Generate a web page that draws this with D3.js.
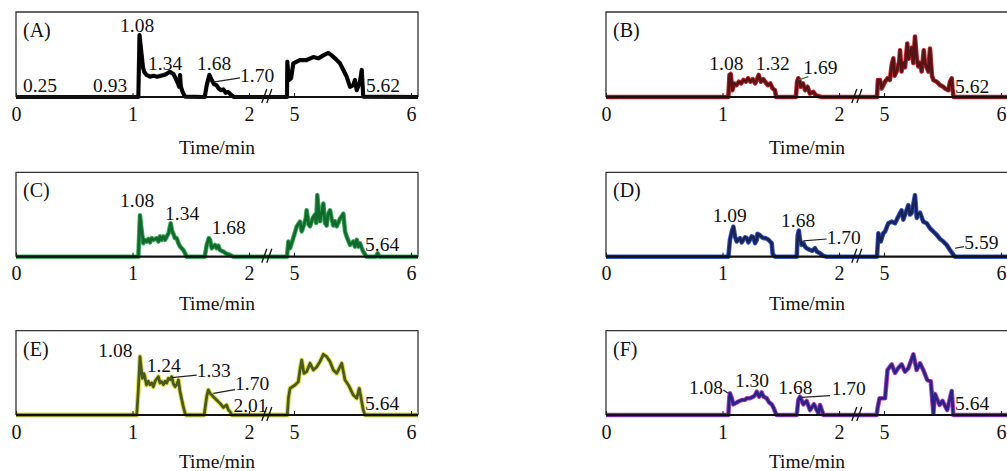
<!DOCTYPE html>
<html><head><meta charset="utf-8">
<script src="https://cdn.jsdelivr.net/npm/d3@7"></script>
<style>html,body{margin:0;padding:0;background:#fff;overflow:hidden}</style>
</head><body><svg id="chart" width="1007" height="471"></svg>
<script>
// ---------- data ----------
const panelNames = ["(A)", "(B)", "(C)", "(D)", "(E)", "(F)"];
const tickValues = [0, 1, 2, 5, 6];
const tickLabels = ["0", "1", "2", "5", "6"];
const axisTitle = "Time/min";
const timeDomain = [0, 2.15, 4.77, 6.06]; // broken time axis: 0–2.15 | 4.77–6.06

// [time (min), relative intensity (%)]
const seriesA = [[0,0],[1.05,0],[1.06,72.9],[1.07,60],[1.09,35],[1.10,29.8],[1.12,25.9],[1.15,23.9],[1.18,25],[1.21,23.9],[1.24,24.9],[1.27,25.9],[1.29,27],[1.32,29.8],[1.351,27],[1.37,22],[1.39,16],[1.40,12],[1.408,25.9],[1.415,12],[1.43,6],[1.45,0.5],[1.62,0],[1.637,14],[1.66,26],[1.68,20],[1.70,15],[1.72,14],[1.74,10],[1.76,8],[1.78,9],[1.80,5],[1.82,6],[1.85,2],[1.87,0],
  [4.94,0],[4.943,41.5],[4.955,20],[4.975,22],[4.994,39.6],[5.05,43.5],[5.108,43.5],[5.165,47],[5.208,45.5],[5.251,49],[5.293,51.8],[5.322,49],[5.35,45.5],[5.393,39.6],[5.422,31.8],[5.45,23.9],[5.479,12],[5.507,14],[5.521,20],[5.536,8],[5.564,18],[5.579,31.8],[5.592,0.4],[6.06,0]];
const seriesB = [[0,0],[1.05,0],[1.06,26],[1.07,27],[1.085,8],[1.10,16],[1.12,14],[1.14,18],[1.16,16],[1.18,20],[1.20,18],[1.22,22],[1.24,18],[1.26,21],[1.28,16],[1.30,22],[1.31,26],[1.33,18],[1.35,21],[1.37,17],[1.39,14],[1.41,16],[1.43,10],[1.45,8],[1.46,0],
  [1.63,0],[1.64,18],[1.65,22],[1.66,20],[1.67,12],[1.69,16],[1.71,8],[1.73,12],[1.75,4],[1.78,6],[1.80,2],[1.85,0],
  [4.94,0],[4.948,20],[4.955,16],[4.966,20],[4.98,10],[5.009,18],[5.03,22],[5.05,20],[5.066,38],[5.08,45.5],[5.09,25],[5.108,30],[5.13,42],[5.137,55],[5.15,30],[5.16,40],[5.18,35],[5.199,63],[5.21,45],[5.222,51],[5.237,58],[5.25,40],[5.265,71],[5.28,45],[5.293,36],[5.308,40],[5.322,30],[5.34,55],[5.35,40],[5.365,35],[5.379,30],[5.393,57],[5.41,25],[5.422,20],[5.45,18],[5.479,14],[5.507,12],[5.521,10],[5.55,8],[5.564,18],[5.579,22],[5.585,10],[5.595,0],[6.06,0]];
const seriesC = [[0,0],[1.05,0],[1.064,49],[1.075,35],[1.093,16],[1.107,20],[1.122,18],[1.136,21],[1.15,17],[1.165,22],[1.179,20],[1.208,22],[1.222,18],[1.236,24],[1.25,20],[1.265,24],[1.28,20],[1.294,24],[1.31,28],[1.328,39.6],[1.34,30],[1.351,27],[1.365,22],[1.379,22],[1.394,16],[1.408,12],[1.422,10],[1.436,8],[1.451,4],[1.465,0],
  [1.62,0],[1.637,14],[1.655,22],[1.665,20],[1.68,10],[1.694,12],[1.708,14],[1.722,10],[1.737,13],[1.75,8],[1.78,6],[1.80,4],[1.837,2],[1.866,0],
  [4.94,0],[4.952,18],[4.966,10],[4.989,20],[5.023,35.7],[5.051,41.5],[5.066,30],[5.08,35.7],[5.10,45],[5.108,55],[5.125,38],[5.137,36],[5.16,45.5],[5.18,50],[5.19,40],[5.199,72.9],[5.215,48],[5.222,42],[5.24,55],[5.251,63],[5.265,40],[5.279,37],[5.29,50],[5.308,55],[5.322,45],[5.336,37],[5.35,42],[5.365,36],[5.393,45],[5.422,51],[5.436,30],[5.45,24],[5.479,14],[5.493,16],[5.507,18],[5.521,12],[5.536,20],[5.55,12],[5.564,16],[5.58,10],[5.592,6],[5.621,0],[5.70,0],[5.715,4],[5.73,0],[6.06,0]];
const seriesD = [[0,0],[1.05,0],[1.064,20],[1.08,30],[1.093,35.7],[1.107,24],[1.122,18],[1.136,20],[1.15,22],[1.165,17],[1.179,20],[1.194,23],[1.208,22],[1.222,17],[1.236,20],[1.25,24],[1.265,23],[1.279,16],[1.294,20],[1.30,27],[1.315,26],[1.33,24],[1.35,22],[1.37,22],[1.394,20],[1.408,18],[1.422,16],[1.431,3],[1.451,0],
  [1.637,0],[1.645,25],[1.655,31],[1.665,20],[1.68,14],[1.694,16],[1.708,12],[1.722,10],[1.737,9],[1.751,8],[1.77,7],[1.794,10],[1.81,6],[1.837,4],[1.866,1],[1.894,0],
  [4.94,0],[4.952,27.8],[4.972,18],[4.994,27.8],[5.009,29.8],[5.037,39.6],[5.066,41.5],[5.094,39.6],[5.12,47],[5.15,55],[5.165,44],[5.18,50],[5.208,61],[5.222,50],[5.237,52],[5.265,72.9],[5.28,46],[5.293,50],[5.308,52],[5.336,41.5],[5.365,39.6],[5.393,33.7],[5.422,29.8],[5.45,26],[5.479,21],[5.507,18],[5.536,14],[5.564,8],[5.592,2.4],[5.607,0],[6.06,0]];
const seriesE = [[0,0],[1.036,0],[1.05,30],[1.064,69.2],[1.075,55],[1.085,43.5],[1.10,49],[1.12,35.6],[1.136,40],[1.15,36],[1.165,38],[1.179,33.6],[1.194,40],[1.208,43],[1.222,45.5],[1.236,38],[1.25,39.5],[1.265,36],[1.279,40],[1.294,38],[1.308,43.5],[1.322,42],[1.336,45.5],[1.351,37],[1.365,33.6],[1.38,36],[1.394,41.5],[1.408,27.7],[1.436,9.9],[1.451,2],[1.46,0],
  [1.615,0],[1.637,22],[1.651,29.7],[1.665,26],[1.694,21.7],[1.722,17.8],[1.751,13.8],[1.78,9],[1.808,11.9],[1.823,6],[1.837,4],[1.852,0],
  [4.943,0],[4.952,19.8],[4.966,31.6],[5.009,35.6],[5.037,39.5],[5.051,53.4],[5.066,65.2],[5.085,49.4],[5.108,51.4],[5.137,61.3],[5.165,53.4],[5.194,57],[5.222,63.3],[5.251,72],[5.279,69.2],[5.308,63.3],[5.336,53.4],[5.365,49.4],[5.408,61.3],[5.436,41.5],[5.465,35.6],[5.507,23.7],[5.536,19.8],[5.558,31.6],[5.579,15.8],[5.592,5.9],[5.607,0],[6.06,0]];
const seriesF = [[0,0],[1.05,0],[1.058,20],[1.064,25.7],[1.079,20],[1.093,12.7],[1.122,14.8],[1.136,16],[1.165,17.8],[1.194,18],[1.208,19.8],[1.236,20],[1.265,21.7],[1.28,23.7],[1.294,27.7],[1.315,21.7],[1.336,26.7],[1.351,22],[1.379,19.8],[1.40,15],[1.422,12.7],[1.44,8],[1.451,4],[1.465,0],
  [1.637,0],[1.651,18],[1.665,21.7],[1.694,12.7],[1.722,16.6],[1.751,5.9],[1.785,12.7],[1.823,2],[1.837,11.9],[1.866,0],
  [4.938,0],[4.945,7.9],[4.962,19.8],[5.009,19.8],[5.03,53.4],[5.066,60],[5.094,50],[5.12,55.4],[5.151,60],[5.179,51.4],[5.208,55.4],[5.251,72],[5.279,53.4],[5.308,61.3],[5.336,53.4],[5.37,41.5],[5.40,40],[5.422,2],[5.436,25],[5.475,11.9],[5.50,16.8],[5.54,5.9],[5.579,28.5],[5.592,0],[6.06,0]];

// peak annotations: [text, time, intensity]
const labelsA = [["0.25",0.06,5.9],["0.93",0.661,5.9],["1.08",0.893,77],["1.34",1.133,31.8],["1.68",1.554,31.8],["1.70",1.923,17.6],["5.62",5.615,5.9]];
const labelsB = [["1.08",0.887,31.8],["1.32",1.285,31.8],["1.69",1.694,27],["5.62",5.607,5]];
const labelsC = [["1.08",0.893,59],["1.34",1.279,44],["1.68",1.68,27],["5.64",5.607,7]];
const labelsD = [["1.09",0.916,41.5],["1.68",1.502,35.7],["1.70",1.894,15.3],["5.59",5.687,9]];
const labelsE = [["1.08",0.707,69.2],["1.24",1.122,51.4],["1.33",1.551,45.5],["1.70",1.88,29.5],["2.01",1.866,3.5],["5.64",5.607,5.9]];
const labelsF = [["1.08",0.712,24.5],["1.30",1.107,33.6],["1.68",1.479,24.5],["1.70",1.937,23.7],["5.64",5.607,5.9]];

// leader lines: [t1, i1, t2, i2]
const leadersA = [[1.691,17.6,1.923,22.4]];
const leadersB = [[1.651,20,1.737,24]];
const leadersC = [];
const leadersD = [[1.694,18.8,1.894,21],[5.607,10,5.684,12]];
const leadersE = [[1.336,44.3,1.551,47.4],[1.694,25.7,1.88,30]];
const leadersF = [[1.007,29.7,1.05,25.7],[1.68,21,1.923,23]];

const allSeries = [seriesA, seriesB, seriesC, seriesD, seriesE, seriesF];
const allLabels = [labelsA, labelsB, labelsC, labelsD, labelsE, labelsF];
const allLeaders = [leadersA, leadersB, leadersC, leadersD, leadersE, leadersF];

// ---------- styles / layout ----------
const traceStyles = [
  {halo:"#1a1a1a", core:"#000000", hw:4.2, cw:3.0},
  {halo:"#c42a30", core:"#561414", hw:4.6, cw:2.8},
  {halo:"#40ad60", core:"#116a2c", hw:4.6, cw:2.8},
  {halo:"#3656c8", core:"#192454", hw:4.6, cw:2.8},
  {halo:"#e2de48", core:"#485a20", hw:4.8, cw:2.8},
  {halo:"#b244c8", core:"#2a2480", hw:4.6, cw:2.8}
];
const leaderColors = ["#222","#2a7a3a","#222","#222","#222","#222"];
const colX = [16, 606];
const rowTop = [12, 172.3, 330.7];
const rowBottom = [97, 256.7, 415];
const titleOffset = [57, 53.5, 53];
const fontFam = "'Liberation Serif','Times New Roman',serif";

const svg = d3.select("#chart");

allSeries.forEach((series, idx) => {
  const col = idx % 2, row = Math.floor(idx / 2);
  const x0 = colX[col], top = rowTop[row], bottom = rowBottom[row];
  const x = d3.scaleLinear().domain(timeDomain).range([x0, x0 + 250.5, x0 + 251.1, x0 + 402]);
  const y = d3.scaleLinear().domain([0, 100]).range([bottom, top]);
  const g = svg.append("g");
  const st = traceStyles[idx];

  // frame (top, left, right)
  g.append("path")
    .attr("d", `M${x0},${bottom}V${top}H${x0 + 402}V${bottom}`)
    .attr("fill", "none").attr("stroke", "#333").attr("stroke-width", 1.3);

  const line = d3.line().x(d => x(d[0])).y(d => y(d[1]));
  g.append("path").datum(series).attr("d", line)
    .attr("fill", "none").attr("stroke", st.halo).attr("stroke-width", st.hw)
    .attr("stroke-linejoin", "round");
  g.append("path").datum(series).attr("d", line)
    .attr("fill", "none").attr("stroke", st.core).attr("stroke-width", st.cw)
    .attr("stroke-linejoin", "round");

  // axis
  const axis = d3.axisBottom(x).tickValues(tickValues).tickSize(-4)
    .tickFormat((d, i) => tickLabels[i]);
  const ag = g.append("g").attr("transform", `translate(0,${bottom})`).call(axis);
  ag.select(".domain").remove();
  ag.selectAll(".tick line").attr("stroke", "#222").attr("stroke-width", 1.1);
  ag.selectAll(".tick text").attr("y", 23.5).attr("dy", null)
    .attr("font-family", fontFam).attr("font-size", 20).attr("fill", "#111");
  g.append("line").attr("x1", x0).attr("x2", x0 + 402).attr("y1", bottom).attr("y2", bottom)
    .attr("stroke", "#111").attr("stroke-width", 2.2);

  // break marks
  const xb = x(timeDomain[1]) + 0.3;
  [-5, 0].forEach(o => {
    g.append("line").attr("x1", xb + o).attr("y1", bottom + 6).attr("x2", xb + o + 5).attr("y2", bottom - 8)
      .attr("stroke", "#111").attr("stroke-width", 1.3);
  });

  // leaders
  allLeaders[idx].forEach(l => {
    g.append("line").attr("x1", x(l[0])).attr("y1", y(l[1])).attr("x2", x(l[2])).attr("y2", y(l[3]))
      .attr("stroke", leaderColors[idx]).attr("stroke-width", 1.2);
  });

  // peak labels
  g.selectAll(".pk").data(allLabels[idx]).enter().append("text")
    .attr("x", d => x(d[1])).attr("y", d => y(d[2]))
    .attr("font-family", fontFam).attr("font-size", 19.5).attr("fill", "#111")
    .text(d => d[0]);

  // panel letter
  g.append("text").attr("x", x0 + 7).attr("y", top + 25)
    .attr("font-family", fontFam).attr("font-size", 20).attr("fill", "#111")
    .text(panelNames[idx]);

  // axis title
  g.append("text").attr("x", x0 + 201).attr("y", bottom + titleOffset[row])
    .attr("text-anchor", "middle")
    .attr("font-family", fontFam).attr("font-size", 19.5).attr("fill", "#111")
    .text(axisTitle);
});
</script>
</body></html>
